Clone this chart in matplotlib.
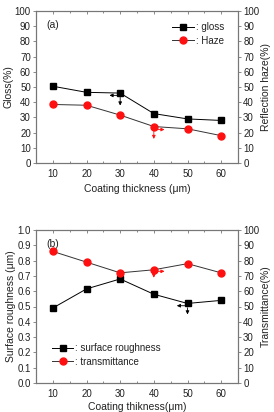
import matplotlib.pyplot as plt
import numpy as np

plt.rcParams["font.family"] = ["Liberation Sans", "DejaVu Sans"]
plt.rcParams["font.size"] = 7
plt.rcParams["text.color"] = "#222222"
plt.rcParams["axes.labelcolor"] = "#222222"
plt.rcParams["xtick.color"] = "#222222"
plt.rcParams["ytick.color"] = "#222222"

thickness = [10, 20, 30, 40, 50, 60]
gloss = [50.5, 46.5, 46.0, 32.5, 29.0, 28.0]
haze = [38.5, 38.0, 31.5, 24.0, 22.5, 18.0]
roughness = [0.49, 0.615, 0.68, 0.58, 0.52, 0.54]
transmittance = [86, 79, 72, 74, 78, 72]

W, H = 274, 412
fig = plt.figure(figsize=(W / 100, H / 100), dpi=100)

frame_col = "#777777"
red = "#ff1010"


def style(ax, ax2):
    for a in (ax, ax2):
        for s in a.spines.values():
            s.set_color(frame_col)
            s.set_linewidth(0.8)
    ax.set_xlim(5, 65)
    ax.set_xticks(thickness)
    ax.set_xticks(np.arange(5, 66, 5), minor=True)
    ax.tick_params(axis="y", which="both", direction="out", length=2.5,
                   width=0.6, color=frame_col, pad=1.2, labelsize=7)
    ax.tick_params(axis="x", which="major", direction="in", length=2.5,
                   width=0.6, color=frame_col, pad=4, labelsize=7,
                   top=True)
    ax.tick_params(axis="x", which="minor", direction="in", length=1.5,
                   width=0.6, color=frame_col, top=True)
    ax2.tick_params(axis="y", which="both", direction="out", length=2.5,
                    width=0.6, color=frame_col, pad=1.2, labelsize=7)


def px_axes(l, t, r, b):
    return fig.add_axes([l / W, 1 - b / H, (r - l) / W, (b - t) / H])


arr_k = dict(arrowstyle="-|>", color="black", lw=0.6, mutation_scale=5)
arr_r = dict(arrowstyle="-|>", color=red, lw=0.6, mutation_scale=5)
leg_kw = dict(frameon=False, fontsize=7, handlelength=2.2, handletextpad=0.2,
              labelspacing=0.35, borderaxespad=0.0)

# ---------------- (a) ----------------
ax = px_axes(36, 11, 238, 163)
ax2 = ax.twinx()
ax.plot(thickness, gloss, "-s", color="black", lw=0.7, ms=4.5,
        label=": gloss")
ax2.plot(thickness, haze, "-o", color="#333333", mfc=red, mec=red,
         lw=0.7, ms=5, label=": Haze")
ax.set_ylim(0, 100)
ax2.set_ylim(0, 100)
ax.set_yticks(range(0, 101, 10))
ax2.set_yticks(range(0, 101, 10))
style(ax, ax2)
ax.set_xlabel("Coating thickness (\u03bcm)", fontsize=7.5, labelpad=4)
ax.set_ylabel("Gloss(%)", fontsize=7.5, labelpad=1)
ax2.set_ylabel("Reflection haze(%)", fontsize=7.5, labelpad=1)
ax.text(8, 91, "(a)", fontsize=7.5, va="center")
ax.annotate("", xy=(26, 44.5), xytext=(30, 44.5), arrowprops=arr_k)
ax.annotate("", xy=(30, 36), xytext=(30, 45), arrowprops=arr_k)
ax2.annotate("", xy=(40, 14), xytext=(40, 23.5), arrowprops=arr_r)
ax2.annotate("", xy=(44, 22), xytext=(40, 22), arrowprops=arr_r)
h1, l1 = ax.get_legend_handles_labels()
h2, l2 = ax2.get_legend_handles_labels()
ax2.legend(h1 + h2, l1 + l2, loc="upper left",
           bbox_to_anchor=(0.655, 0.95), **leg_kw)

# ---------------- (b) ----------------
bx = px_axes(36, 230, 238, 383)
bx2 = bx.twinx()
bx.plot(thickness, roughness, "-s", color="black", lw=0.7, ms=4.5,
        label=": surface roughness")
bx2.plot(thickness, transmittance, "-o", color="#333333", mfc=red,
         mec=red, lw=0.7, ms=5, label=": transmittance")
bx.set_ylim(0, 1.0)
bx2.set_ylim(0, 100)
bx.set_yticks(np.round(np.arange(0, 1.01, 0.1), 1))
bx.set_yticklabels([f"{v:.1f}" for v in np.arange(0, 1.01, 0.1)])
bx2.set_yticks(range(0, 101, 10))
style(bx, bx2)
bx.set_xlabel("Coating thikness(\u03bcm)", fontsize=7.5, labelpad=2.5)
bx.set_ylabel("Surface roughness (\u03bcm)", fontsize=7.5, labelpad=1)
bx2.set_ylabel("Transmittance(%)", fontsize=7.5, labelpad=1)
bx.text(8, 0.91, "(b)", fontsize=7.5, va="center")
bx2.annotate("", xy=(40, 67), xytext=(40, 73.5), arrowprops=arr_r)
bx2.annotate("", xy=(44, 73), xytext=(40, 73), arrowprops=arr_r)
bx.annotate("", xy=(46, 0.505), xytext=(50, 0.505), arrowprops=arr_k)
bx.annotate("", xy=(50, 0.43), xytext=(50, 0.51), arrowprops=arr_k)
h1, l1 = bx.get_legend_handles_labels()
h2, l2 = bx2.get_legend_handles_labels()
bx2.legend(h1 + h2, l1 + l2, loc="lower left",
           bbox_to_anchor=(0.06, 0.08), **leg_kw)

fig.savefig("out.png", dpi=100)
